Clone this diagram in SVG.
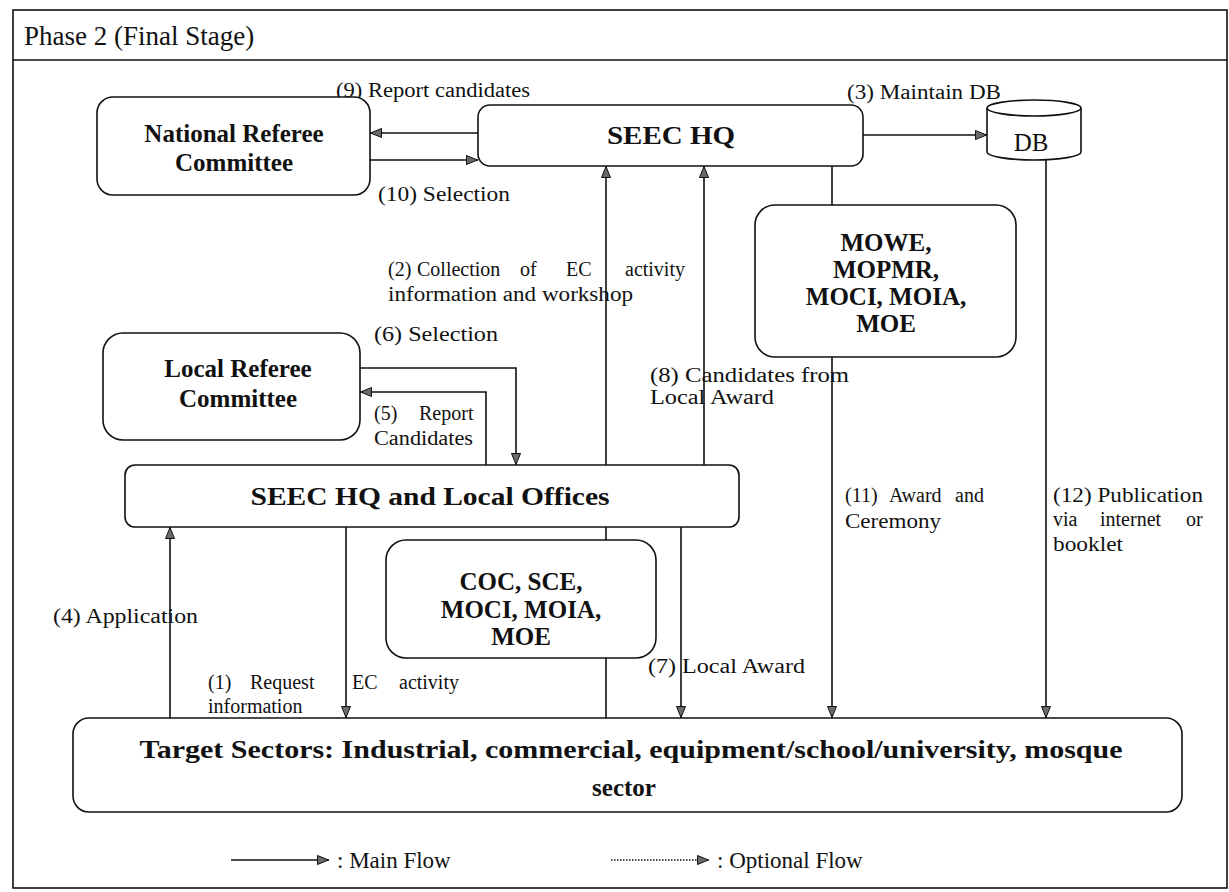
<svg xmlns="http://www.w3.org/2000/svg" width="1229" height="892" viewBox="0 0 1229 892">
  <style>
    .box { fill: #fff; stroke: #111; stroke-width: 1.6; }
    .frame { fill: #fff; stroke: #111; stroke-width: 1.6; }
    .node { font-family: "Liberation Serif", "Times New Roman", serif; font-weight: bold; font-size: 25px; fill: #111; text-anchor: middle; }
    .lbl { font-family: "Liberation Serif", "Times New Roman", serif; font-size: 20px; fill: #111; }
    .title { font-family: "Liberation Serif", "Times New Roman", serif; font-size: 27px; fill: #111; }
    .leg { font-family: "Liberation Serif", "Times New Roman", serif; font-size: 23px; fill: #111; }
    .flow { fill: none; stroke: #111; stroke-width: 1.6; }
    .opt { fill: none; stroke: #111; stroke-width: 1.6; stroke-dasharray: 1.5 1.5; }
  </style>
  <defs>
    <marker id="arrow" viewBox="0 0 12 10" refX="12" refY="5" markerWidth="12" markerHeight="10" markerUnits="userSpaceOnUse" orient="auto">
      <path d="M0.5,0.5 L11.5,5 L0.5,9.5 z" fill="#6a6a6a" stroke="#111" stroke-width="1"/>
    </marker>
  </defs>

  <!-- outer frame and header band -->
  <rect class="frame" x="13" y="10" width="1214" height="878"/>
  <line x1="13" y1="60" x2="1227" y2="60" stroke="#111" stroke-width="1.6"/>
  <text class="title" x="24" y="45">Phase 2 (Final Stage)</text>

  <!-- connectors -->
  <g id="connectors">
    <path class="flow" d="M478,133 L370,133" marker-end="url(#arrow)"/>
    <path class="flow" d="M370,160 L478,160" marker-end="url(#arrow)"/>
    <path class="flow" d="M863,135 L987,135" marker-end="url(#arrow)"/>
    <path class="flow" d="M606,465 L606,166" marker-end="url(#arrow)"/>
    <path class="flow" d="M606,540 L606,527"/>
    <path class="flow" d="M606,718 L606,658"/>
    <path class="flow" d="M704,465 L704,166" marker-end="url(#arrow)"/>
    <path class="flow" d="M832,166 L832,205"/>
    <path class="flow" d="M832,357 L832,718" marker-end="url(#arrow)"/>
    <path class="flow" d="M1046,160 L1046,718" marker-end="url(#arrow)"/>
    <path class="flow" d="M360,368 L516,368 L516,465" marker-end="url(#arrow)"/>
    <path class="flow" d="M486,465 L486,392 L360,392" marker-end="url(#arrow)"/>
    <path class="flow" d="M170,718 L170,527" marker-end="url(#arrow)"/>
    <path class="flow" d="M346,527 L346,718" marker-end="url(#arrow)"/>
    <path class="flow" d="M681,527 L681,718" marker-end="url(#arrow)"/>
  </g>

  <!-- connector labels -->
  <g id="labels">
    <text class="lbl" x="336" y="97" textLength="194" lengthAdjust="spacingAndGlyphs">(9) Report candidates</text>
    <text class="lbl" x="378" y="201" textLength="132" lengthAdjust="spacingAndGlyphs">(10) Selection</text>
    <text class="lbl" x="847" y="99" textLength="154" lengthAdjust="spacingAndGlyphs">(3) Maintain DB</text>
    <text class="lbl" y="276"><tspan x="388">(2)</tspan><tspan x="417">Collection</tspan><tspan x="520">of</tspan><tspan x="566">EC</tspan><tspan x="625">activity</tspan></text>
    <text class="lbl" x="388" y="301" textLength="245" lengthAdjust="spacingAndGlyphs">information and workshop</text>
    <text class="lbl" x="374" y="341" textLength="124" lengthAdjust="spacingAndGlyphs">(6) Selection</text>
    <text class="lbl" y="420"><tspan x="374">(5)</tspan><tspan x="419">Report</tspan></text>
    <text class="lbl" x="374" y="445" textLength="99" lengthAdjust="spacingAndGlyphs">Candidates</text>
    <text class="lbl" x="650" y="382" textLength="199" lengthAdjust="spacingAndGlyphs">(8) Candidates from</text>
    <text class="lbl" x="650" y="404" textLength="124" lengthAdjust="spacingAndGlyphs">Local Award</text>
    <text class="lbl" x="53" y="623" textLength="145" lengthAdjust="spacingAndGlyphs">(4) Application</text>
    <text class="lbl" y="689"><tspan x="208">(1)</tspan><tspan x="250">Request</tspan><tspan x="352">EC</tspan><tspan x="399">activity</tspan></text>
    <text class="lbl" x="208" y="713">information</text>
    <text class="lbl" x="648" y="673" textLength="157" lengthAdjust="spacingAndGlyphs">(7) Local Award</text>
    <text class="lbl" y="502"><tspan x="845">(11)</tspan><tspan x="889">Award</tspan><tspan x="955">and</tspan></text>
    <text class="lbl" x="845" y="528" textLength="96" lengthAdjust="spacingAndGlyphs">Ceremony</text>
    <text class="lbl" x="1053" y="502" textLength="150" lengthAdjust="spacingAndGlyphs">(12) Publication</text>
    <text class="lbl" y="526"><tspan x="1053">via</tspan><tspan x="1100">internet</tspan><tspan x="1186">or</tspan></text>
    <text class="lbl" x="1053" y="551" textLength="70" lengthAdjust="spacingAndGlyphs">booklet</text>
  </g>

  <g id="national-referee">
    <rect class="box" x="97" y="97" width="273" height="98" rx="16"/>
    <text class="node" x="234" y="142">National Referee</text>
    <text class="node" x="234" y="171">Committee</text>
  </g>

  <g id="seec-hq">
    <rect class="box" x="478" y="105" width="385" height="61" rx="12"/>
    <text class="node" x="671" y="144" textLength="128" lengthAdjust="spacingAndGlyphs">SEEC HQ</text>
  </g>

  <g id="db">
    <path class="box" d="M987,108 L987,152 A47,8 0 0 0 1081,152 L1081,108 A47,8 0 0 0 987,108 Z"/>
    <path class="flow" d="M987,108 A47,8 0 0 0 1081,108"/>
    <text x="1031" y="151" font-family="Liberation Serif, serif" font-size="25" text-anchor="middle" fill="#111">DB</text>
  </g>

  <g id="ministries">
    <rect class="box" x="755" y="205" width="261" height="152" rx="20"/>
    <text class="node" x="886" y="251">MOWE,</text>
    <text class="node" x="886" y="278">MOPMR,</text>
    <text class="node" x="886" y="305">MOCI, MOIA,</text>
    <text class="node" x="886" y="332">MOE</text>
  </g>

  <g id="local-referee">
    <rect class="box" x="103" y="333" width="257" height="107" rx="20"/>
    <text class="node" x="238" y="377">Local Referee</text>
    <text class="node" x="238" y="407">Committee</text>
  </g>

  <g id="seec-local">
    <rect class="box" x="125" y="465" width="614" height="62" rx="10"/>
    <text class="node" x="430" y="505" textLength="359" lengthAdjust="spacingAndGlyphs">SEEC HQ and Local Offices</text>
  </g>

  <g id="chambers">
    <rect class="box" x="386" y="540" width="270" height="118" rx="20"/>
    <text class="node" x="521" y="590">COC, SCE,</text>
    <text class="node" x="521" y="618">MOCI, MOIA,</text>
    <text class="node" x="521" y="645">MOE</text>
  </g>

  <g id="target-sectors">
    <rect class="box" x="73" y="718" width="1109" height="94" rx="16"/>
    <text class="node" x="631" y="758" textLength="983" lengthAdjust="spacingAndGlyphs">Target Sectors: Industrial, commercial, equipment/school/university, mosque</text>
    <text class="node" x="624" y="796">sector</text>
  </g>

  <g id="legend">
    <path class="flow" d="M231,860 L329,860" marker-end="url(#arrow)"/>
    <text class="leg" x="337" y="868">: Main Flow</text>
    <path class="opt" d="M611,860 L709,860" marker-end="url(#arrow)"/>
    <text class="leg" x="717" y="868">: Optional Flow</text>
  </g>
</svg>
